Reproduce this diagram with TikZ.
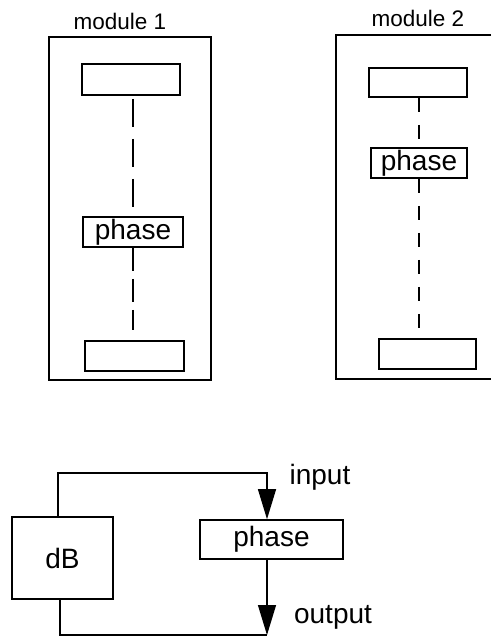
\documentclass[tikz,border=0pt]{standalone}
\usepackage{fontspec}
\setmainfont{Liberation Sans}
\usetikzlibrary{arrows.meta}
\begin{document}
\begin{tikzpicture}[x=1pt,y=-1pt,
  outerbox/.style={draw,line width=1.7pt,inner sep=0pt},
  innerbox/.style={draw,line width=1.6pt,inner sep=0pt,font=\fontsize{28}{30}\selectfont},
  modlabel/.style={font=\fontsize{22.5}{24}\selectfont,inner sep=0pt},
  biglabel/.style={font=\fontsize{28}{30}\selectfont,inner sep=0pt},
  dashA/.style={line width=2.2pt,dash pattern=on 28pt off 12pt},
  dashC/.style={line width=2.2pt,dash pattern=on 23pt off 8pt},
  dashB/.style={line width=2.2pt,dash pattern=on 14pt off 13pt},
  flow/.style={line width=1.2pt},
  bigarrow/.style={-{Triangle[width=18pt,length=30pt]}}
]
\useasboundingbox (0,0) rectangle (491,639);
% module 1
\node[modlabel] (ml1) at (120,21) {module 1};
\node[outerbox,minimum width=162pt,minimum height=343pt] (m1) at (130,208.5) {};
\node[innerbox,minimum width=98pt,minimum height=31pt] (t1) at (131,79.5) {};
\node[innerbox,minimum width=100pt,minimum height=30pt] (p1) at (133,232) {phase};
\node[innerbox,minimum width=99pt,minimum height=30pt] (b1) at (134.5,356) {};
\coordinate (e1) at (133,330);
\draw[dashA,shorten <=3pt,shorten >=9pt] (t1.south -| p1.north) -- (p1.north);
\draw[dashC] (p1.south) -- (e1);
% module 2
\node[modlabel] (ml2) at (418,18) {module 2};
\coordinate (m2a) at (491,35);
\coordinate (m2b) at (491,379);
\draw[line width=1.7pt] (m2a) -- (336,35) -- (336,379) -- (m2b);
\node[innerbox,minimum width=98pt,minimum height=29pt] (t2) at (418,82.5) {};
\node[innerbox,minimum width=96pt,minimum height=30pt] (p2) at (419,163) {phase};
\node[innerbox,minimum width=97pt,minimum height=30pt] (b2) at (427.5,354) {};
\coordinate (e2) at (419,332);
\draw[dashB] (t2.south -| p2.north) -- (p2.north);
\draw[dashB] (p2.south) -- (e2);
% bottom diagram
\node[innerbox,minimum width=101pt,minimum height=82pt] (db) at (62.5,558) {dB};
\node[innerbox,minimum width=143pt,minimum height=39pt] (p3) at (271.5,539.5) {phase};
\coordinate (c1) at (58,473);
\coordinate (c2) at (267,473);
\coordinate (c3) at (60,635);
\coordinate (c4) at (267,635);
\draw[flow,bigarrow] (c1 |- db.north) -- (c1) -- (c2) -- (c2 |- p3.north);
\draw[flow,bigarrow] (c4 |- p3.south) -- (c4);
\draw[flow] (c3 |- db.south) -- (c3) -- (c4);
\node[biglabel] (in) at (320,477) {input};
\node[biglabel] (out) at (333,617) {output};
\end{tikzpicture}
\end{document}
